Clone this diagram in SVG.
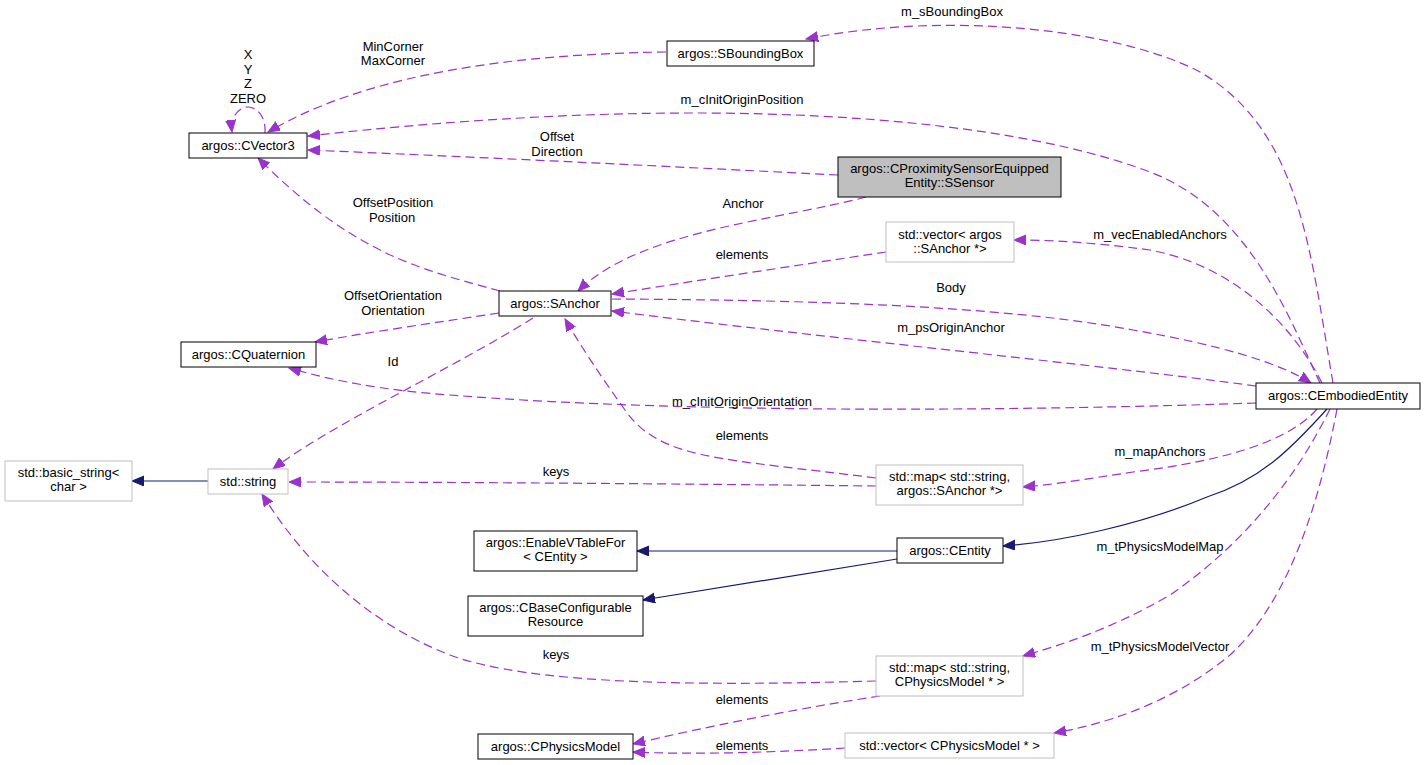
<svg xmlns="http://www.w3.org/2000/svg" width="1425" height="765" viewBox="0 0 1425 765">
<style>
text{font-family:"Liberation Sans",Arial,sans-serif;font-size:13px;fill:#000;text-anchor:middle}
.n{fill:#fff;stroke:#000;stroke-width:1}
.g{fill:#fff;stroke:#bfbfbf;stroke-width:1}
.h{fill:#bfbfbf;stroke:#000;stroke-width:1}
.d{fill:none;stroke:#9a32cd;stroke-width:1.2;stroke-dasharray:9,5;marker-end:url(#ap)}
.s{fill:none;stroke:#191970;stroke-width:1.2;marker-end:url(#an)}
</style>
<defs>
<marker id="ap" markerWidth="14" markerHeight="12" refX="12" refY="5" orient="auto" markerUnits="userSpaceOnUse"><path d="M0,0 L12,5 L0,10 z" fill="#9a32cd" stroke="#9a32cd" stroke-dasharray="none"/></marker>
<marker id="an" markerWidth="14" markerHeight="12" refX="12" refY="5" orient="auto" markerUnits="userSpaceOnUse"><path d="M0,0 L12,5 L0,10 z" fill="#191970" stroke="#191970"/></marker>
</defs>
<rect width="1425" height="765" fill="#fff"/>
<g id="edges">
<path class="d" d="M265,133 C266,115 256,107 248,107 C240,107 230,115 232,132"/>
<path class="d" d="M666,52 C520,54 370,72 268,132"/>
<path class="d" d="M1333,383 C1310,250 1300,130 1200,72 C1120,30 950,10 806,39"/>
<path class="d" d="M1320,383 C1290,320 1250,210 1150,172 C1000,115 700,92 308,136"/>
<path class="d" d="M838,175 C700,168 500,158 308,150"/>
<path class="d" d="M866,197 C780,220 640,230 578,291"/>
<path class="d" d="M886,252 C800,265 700,280 612,294"/>
<path class="d" d="M1322,383 C1290,320 1230,265 1150,250 C1090,242 1050,240 1014,240"/>
<path class="d" d="M612,299 C800,300 1000,305 1133,330 C1220,345 1280,363 1311,383"/>
<path class="d" d="M1256,386 C1100,365 800,335 612,311"/>
<path class="d" d="M1256,403 C1050,410 700,415 450,395 C380,390 330,380 289,368"/>
<path class="d" d="M499,313 C440,322 370,332 315,342"/>
<path class="d" d="M500,291 C460,280 420,270 380,250 C330,225 290,190 258,158"/>
<path class="d" d="M533,318 C450,370 330,425 273,469"/>
<path class="d" d="M876,478 C720,458 660,460 625,410 C600,375 580,345 565,319"/>
<path class="d" d="M876,486 C700,484 450,482 289,482"/>
<path class="s" d="M208,481 L132,481"/>
<path class="d" d="M1317,409 C1290,440 1230,460 1133,472 C1080,480 1050,485 1023,487"/>
<path class="s" d="M1327,409 C1290,450 1260,480 1207,497 C1140,525 1060,542 1003,546"/>
<path class="s" d="M897,551 L637,551"/>
<path class="s" d="M897,559 L643,600"/>
<path class="d" d="M1330,409 C1300,470 1250,540 1170,595 C1110,630 1060,645 1023,656"/>
<path class="d" d="M1337,409 C1320,500 1290,600 1230,655 C1170,705 1100,725 1054,733"/>
<path class="d" d="M876,681 C700,686 530,685 450,655 C360,620 300,555 262,494"/>
<path class="d" d="M880,696 C800,708 700,728 633,744"/>
<path class="d" d="M845,748 C780,752 700,755 633,752"/>
</g>
<g id="edge-labels">
<text x="248" y="59">X</text>
<text x="248" y="74">Y</text>
<text x="248" y="88">Z</text>
<text x="248" y="103">ZERO</text>
<text x="393" y="51">MinCorner</text>
<text x="393" y="65">MaxCorner</text>
<text x="952" y="16">m_sBoundingBox</text>
<text x="742" y="104">m_cInitOriginPosition</text>
<text x="557" y="141">Offset</text>
<text x="557" y="156">Direction</text>
<text x="743" y="208">Anchor</text>
<text x="393" y="207">OffsetPosition</text>
<text x="392" y="222">Position</text>
<text x="742" y="259">elements</text>
<text x="1160" y="239">m_vecEnabledAnchors</text>
<text x="951" y="292">Body</text>
<text x="393" y="300">OffsetOrientation</text>
<text x="393" y="315">Orientation</text>
<text x="951" y="332">m_psOriginAnchor</text>
<text x="393" y="366">Id</text>
<text x="742" y="406">m_cInitOriginOrientation</text>
<text x="742" y="440">elements</text>
<text x="1160" y="456">m_mapAnchors</text>
<text x="556" y="476">keys</text>
<text x="1160" y="551">m_tPhysicsModelMap</text>
<text x="1160" y="651">m_tPhysicsModelVector</text>
<text x="556" y="659">keys</text>
<text x="742" y="704">elements</text>
<text x="742" y="750">elements</text>
</g>
<g id="CVector3"><rect class="n" x="189" y="133" width="118" height="25"/><text x="248" y="150">argos::CVector3</text></g>
<g id="SBoundingBox"><rect class="n" x="667" y="41" width="147" height="25"/><text x="740.5" y="58">argos::SBoundingBox</text></g>
<g id="SSensor"><rect class="h" x="838" y="157" width="223" height="40"/><text x="949.5" y="173">argos::CProximitySensorEquipped</text><text x="949.5" y="187">Entity::SSensor</text></g>
<g id="VectorSAnchor"><rect class="g" x="886" y="222" width="128" height="40"/><text x="950" y="239">std::vector&lt; argos</text><text x="950" y="253">::SAnchor *&gt;</text></g>
<g id="SAnchor"><rect class="n" x="499" y="291" width="112" height="25"/><text x="555" y="308">argos::SAnchor</text></g>
<g id="CQuaternion"><rect class="n" x="181" y="342" width="135" height="25"/><text x="248.5" y="359">argos::CQuaternion</text></g>
<g id="CEmbodiedEntity"><rect class="n" x="1256" y="383" width="164" height="26"/><text x="1338" y="400">argos::CEmbodiedEntity</text></g>
<g id="BasicString"><rect class="g" x="5" y="461" width="127" height="40"/><text x="68.5" y="477">std::basic_string&lt;</text><text x="68.5" y="491">char &gt;</text></g>
<g id="StdString"><rect class="g" x="208" y="469" width="80" height="25"/><text x="248" y="486">std::string</text></g>
<g id="MapSAnchor"><rect class="g" x="876" y="465" width="147" height="40"/><text x="949.5" y="481">std::map&lt; std::string,</text><text x="949.5" y="495">argos::SAnchor *&gt;</text></g>
<g id="EnableVTableFor"><rect class="n" x="474" y="531" width="163" height="40"/><text x="555.5" y="547">argos::EnableVTableFor</text><text x="555.5" y="561">&lt; CEntity &gt;</text></g>
<g id="CEntity"><rect class="n" x="897" y="538" width="106" height="25"/><text x="950" y="555">argos::CEntity</text></g>
<g id="CBaseConfigurableResource"><rect class="n" x="468" y="596" width="175" height="40"/><text x="555.5" y="612">argos::CBaseConfigurable</text><text x="555.5" y="626">Resource</text></g>
<g id="MapCPhysicsModel"><rect class="g" x="876" y="656" width="147" height="40"/><text x="949.5" y="672">std::map&lt; std::string,</text><text x="949.5" y="686">CPhysicsModel * &gt;</text></g>
<g id="CPhysicsModel"><rect class="n" x="478" y="734" width="155" height="25"/><text x="555.5" y="751">argos::CPhysicsModel</text></g>
<g id="VectorCPhysicsModel"><rect class="g" x="845" y="733" width="209" height="25"/><text x="949.5" y="750">std::vector&lt; CPhysicsModel * &gt;</text></g>
</svg>
